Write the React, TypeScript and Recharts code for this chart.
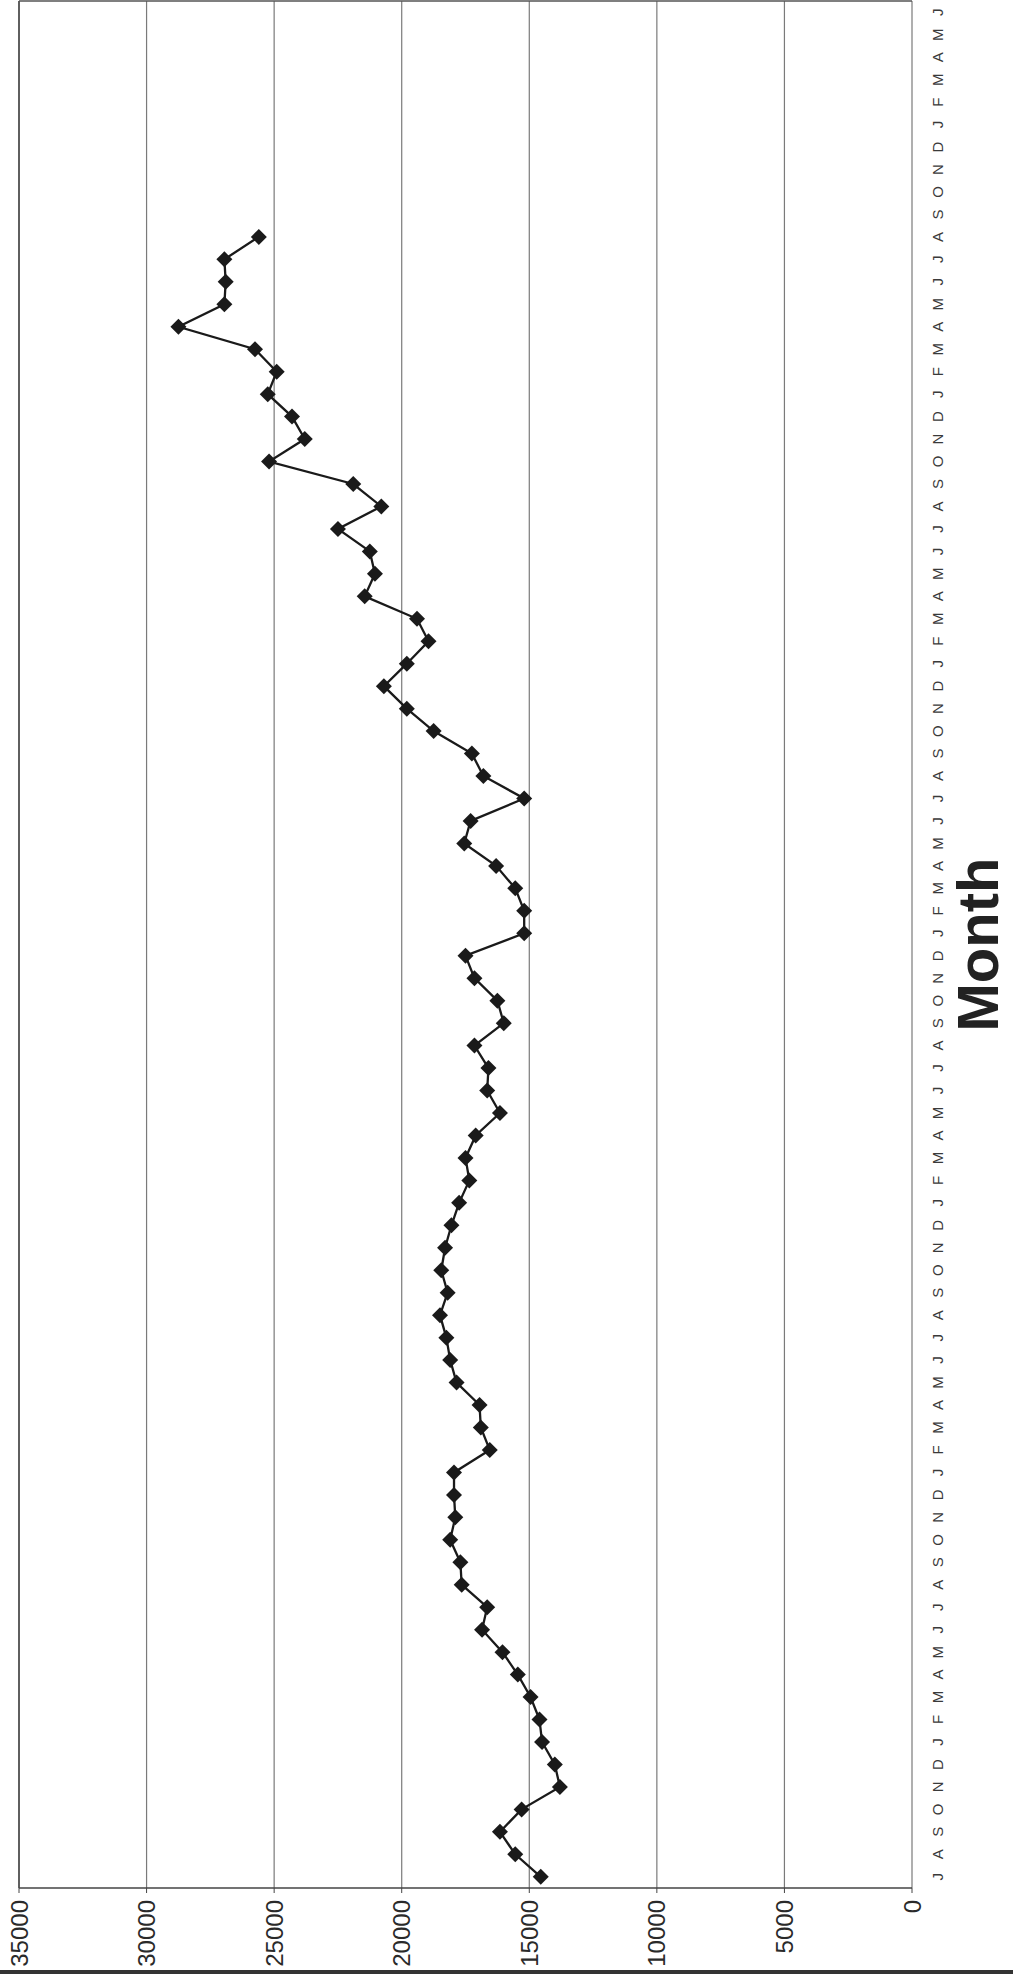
import { LineChart, Line, XAxis, YAxis, CartesianGrid, ReferenceLine, Label } from 'recharts';

// July-to-June seasons along the category axis
const seasonMonths = ['J', 'A', 'S', 'O', 'N', 'D', 'J', 'F', 'M', 'A', 'M', 'J'];
const seasonCount = 7;
const monthLabels = Array.from({ length: seasonCount }, () => seasonMonths).flat();

// monthly readings, starting July of the first season
const monthlyValues = [
  14550, 15550, 16150, 15300, 13800, 14000, 14500, 14600, 14950, 15450, 16050, 16850,
  16650, 17650, 17700, 18100, 17900, 17950, 17950, 16550, 16900, 16950, 17850, 18100,
  18250, 18500, 18200, 18450, 18300, 18050, 17750, 17350, 17500, 17100, 16150, 16650,
  16600, 17150, 16000, 16250, 17150, 17500, 15200, 15200, 15550, 16300, 17550, 17300,
  15200, 16800, 17250, 18750, 19800, 20700, 19800, 18950, 19400, 21450, 21050, 21250,
  22500, 20800, 21900, 25200, 23800, 24300, 25250, 24900, 25750, 28750, 26950, 26900,
  26950, 25600,
];

const valueTicks = [0, 5000, 10000, 15000, 20000, 25000, 30000, 35000];

const data = monthLabels.map((month, i) => ({
  pos: i + 0.5,
  month,
  value: i < monthlyValues.length ? monthlyValues[i] : null,
}));
const boundaryTicks = [...monthLabels.map((_, i) => i), monthLabels.length];
const centerTicks = data.map(d => d.pos);

const FONT = '"Liberation Sans", Arial, Helvetica, sans-serif';

// chart is laid out normally, then turned a quarter turn to read bottom-up
const W = 1974;
const H = 1013;

export default function App() {
  return (
    <div style={{ position: 'absolute', left: 0, top: 0, width: H, height: W, overflow: 'hidden', background: '#fff' }}>
      <div
        style={{
          position: 'absolute',
          left: 0,
          top: 0,
          width: W,
          height: H,
          transformOrigin: '0 0',
          transform: `translateY(${W}px) rotate(-90deg)`,
        }}
      >
        <LineChart width={W} height={H} data={data} margin={{ top: 19, right: 1, bottom: 41, left: 0 }}>
          <CartesianGrid xAxisId="labels" vertical={false} stroke="#7a7a7a" strokeWidth={1.2} />
          <XAxis
            xAxisId="ticks"
            dataKey="pos"
            type="number"
            domain={[0, monthLabels.length]}
            ticks={boundaryTicks}
            interval={0}
            height={0}
            tick={false}
            tickSize={5}
            tickLine={{ stroke: '#666' }}
            axisLine={{ stroke: '#5a5a5a', strokeWidth: 1.5 }}
          />
          <XAxis
            xAxisId="labels"
            dataKey="pos"
            type="number"
            domain={[0, monthLabels.length]}
            ticks={centerTicks}
            interval={0}
            height={60}
            tickSize={0}
            tickMargin={20}
            tickLine={false}
            axisLine={false}
            tickFormatter={(v: number) => monthLabels[Math.floor(v)] ?? ''}
            tick={{ fontSize: 15, fontFamily: FONT, fill: '#3a3a3a' }}
          >
            <Label content={<MonthTitle />} />
          </XAxis>
          <YAxis
            type="number"
            domain={[0, 35000]}
            ticks={valueTicks}
            interval={0}
            width={86}
            tickSize={5}
            tickMargin={7}
            tickLine={{ stroke: '#444' }}
            axisLine={{ stroke: '#444', strokeWidth: 1.5 }}
            tick={{ fontSize: 24, fontFamily: FONT, fill: '#2a2a2a' }}
          />
          <ReferenceLine y={35000} xAxisId="labels" stroke="#444" strokeWidth={1.5} />
          <ReferenceLine xAxisId="labels" x={monthLabels.length} stroke="#555" strokeWidth={1.5} />
          <Line
            xAxisId="labels"
            type="linear"
            dataKey="value"
            stroke="#1a1a1a"
            strokeWidth={2.3}
            dot={<Diamond />}
            activeDot={false}
            connectNulls={false}
            isAnimationActive={false}
          />
        </LineChart>
      </div>
      <div style={{ position: 'absolute', left: 0, bottom: 0, width: H, height: 4, background: '#333' }} />
    </div>
  );
}

function Diamond(props: any) {
  const { cx, cy, value } = props;
  if (cx == null || cy == null || value == null) return null;
  const r = 8;
  return (
    <polygon
      points={`${cx},${cy - r} ${cx + r},${cy} ${cx},${cy + r} ${cx - r},${cy}`}
      fill="#1a1a1a"
    />
  );
}

function MonthTitle(props: any) {
  const vb = props.viewBox;
  if (!vb) return null;
  return (
    <text
      x={vb.x + vb.width / 2}
      y={vb.y + 86}
      textAnchor="middle"
      fontFamily={FONT}
      fontSize={58}
      fontWeight="bold"
      fill="#222"
    >
      Month
    </text>
  );
}
